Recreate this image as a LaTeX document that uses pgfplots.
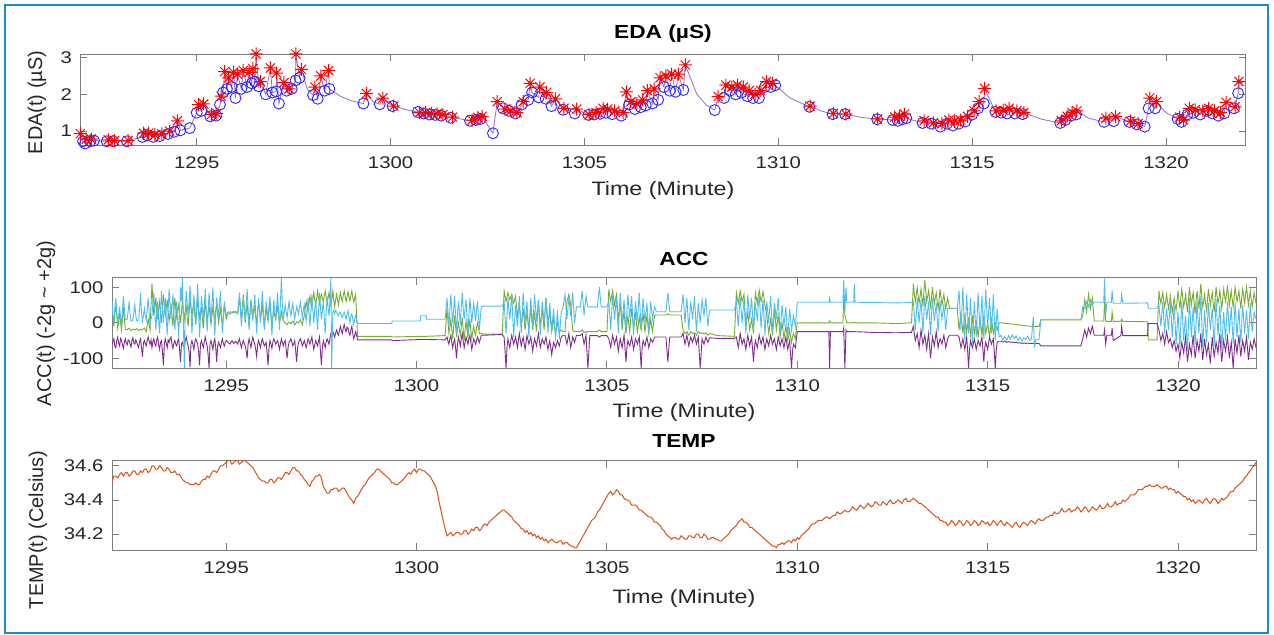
\documentclass[border=0pt]{standalone}
\usepackage{pgfplots}
\pgfplotsset{compat=1.18}
\usepackage{pgfplotstable}
\usepackage{fontspec}
\setmainfont{Liberation Sans}[FakeStretch=1.2]
\newfontfamily\ylabfont{Liberation Sans}
\definecolor{mgreen}{RGB}{119,172,48}
\definecolor{mpurple}{RGB}{126,47,142}
\definecolor{mcyan}{RGB}{77,190,238}
\definecolor{morange}{RGB}{217,83,25}
\definecolor{edaline}{RGB}{150,110,190}
\definecolor{frameblue}{RGB}{30,136,200}
\definecolor{axgray}{RGB}{125,125,125}
\definecolor{txt}{RGB}{38,38,38}
\definecolor{cblue}{RGB}{40,40,255}

\pgfdeclareplotmark{mstar}{%
 \pgfpathmoveto{\pgfqpoint{-\pgfplotmarksize}{0pt}}\pgfpathlineto{\pgfqpoint{\pgfplotmarksize}{0pt}}%
 \pgfpathmoveto{\pgfqpoint{0pt}{-\pgfplotmarksize}}\pgfpathlineto{\pgfqpoint{0pt}{\pgfplotmarksize}}%
 \pgfpathmoveto{\pgfqpoint{-0.7071\pgfplotmarksize}{-0.7071\pgfplotmarksize}}\pgfpathlineto{\pgfqpoint{0.7071\pgfplotmarksize}{0.7071\pgfplotmarksize}}%
 \pgfpathmoveto{\pgfqpoint{-0.7071\pgfplotmarksize}{0.7071\pgfplotmarksize}}\pgfpathlineto{\pgfqpoint{0.7071\pgfplotmarksize}{-0.7071\pgfplotmarksize}}%
 \pgfusepathqstroke}

\pgfplotsset{mstyle/.style={
 scale only axis, anchor=south west,
 xmin=1292, xmax=1322.05,
 axis line style={axgray, line width=0.9bp},
 every tick/.style={axgray, line width=0.9bp},
 tick align=inside, major tick length=7bp,
 xtick={1295,1300,1305,1310,1315,1320},
 /pgf/number format/assume math mode=true,
 /pgf/number format/1000 sep={},
 xticklabel style={font=\fontsize{17}{19}\selectfont, text=txt, yshift=-8bp},
 yticklabel style={font=\fontsize{17}{19}\selectfont, text=txt, xshift=-5bp},
 title style={font=\bfseries\fontsize{19}{21}\selectfont, at={(axis description cs:0.5,1)}, anchor=center},
 xlabel={Time (Minute)},
 xlabel style={font=\fontsize{19.5}{21}\selectfont, text=txt, at={(axis description cs:0.5,0)}, anchor=center},
 ylabel style={font=\ylabfont\fontsize{20}{22}\selectfont, text=txt, anchor=center},
}}

\pgfplotstableread{
t g p c
1292.000 40 -60 60
1292.025 15 -52 25
1292.050 -10 -45 -5
1292.075 25 -66 40
1292.100 55 -70 70
1292.125 20 -50 30
1292.150 -15 -40 5
1292.175 5 -58 20
1292.200 30 -65 45
1292.225 0 -44 15
1292.250 -20 -50 -10
1292.275 10 -62 35
1292.300 45 -72 75
1292.325 10 -55 40
1292.350 -18 -45 8
1292.375 -19 -58 9
1292.400 -20 -62 10
1292.425 -17 -48 35
1292.450 -15 -50 60
1292.475 -19 -60 20
1292.500 -22 -68 5
1292.525 -20 -50 7
1292.550 -18 -42 8
1292.575 -19 -58 30
1292.600 -20 -60 50
1292.625 -18 -48 20
1292.650 -16 -55 6
1292.675 -19 -64 7
1292.700 -22 -70 8
1292.725 -20 -52 40
1292.750 -18 -45 85
1292.775 -19 -70 30
1292.800 -20 -95 5
1292.825 -17 -58 20
1292.850 -15 -50 40
1292.875 -20 -58 20
1292.900 -25 -65 8
1292.925 -5 -50 40
1292.950 10 -40 70
1292.975 -5 -52 30
1293.000 -20 -60 -5
1293.025 50 -48 10
1293.050 110 -70 20
1293.075 60 -52 55
1293.100 20 -45 85
1293.125 45 -60 30
1293.150 70 -65 -20
1293.175 35 -48 25
1293.200 10 -40 60
1293.225 40 -62 10
1293.250 60 -75 -30
1293.275 25 -55 35
1293.300 0 -50 90
1293.325 45 -80 40
1293.350 80 -120 0
1293.375 45 -60 40
1293.400 20 -45 70
1293.425 40 -58 15
1293.450 65 -70 -35
1293.475 30 -48 35
1293.500 5 -55 95
1293.525 30 -45 50
1293.550 55 -40 10
1293.575 20 -60 45
1293.600 -10 -72 80
1293.625 30 -58 30
1293.650 70 -50 -20
1293.675 40 -60 20
1293.700 15 -65 60
1293.725 35 -52 10
1293.750 50 -45 -40
1293.775 25 -75 30
1293.800 0 -110 100
1293.825 30 -60 60
1293.850 60 -55 127
1293.875 35 -65 0
1293.900 10 -70 -128
1293.925 30 -50 40
1293.950 45 -40 90
1293.975 15 -55 50
1294.000 -10 -65 20
1294.025 30 -80 60
1294.050 70 -125 105
1294.075 45 -60 40
1294.100 20 -50 -30
1294.125 40 -62 25
1294.150 55 -75 80
1294.175 25 -55 40
1294.200 -5 -45 0
1294.225 30 -52 55
1294.250 65 -60 110
1294.275 40 -80 30
1294.300 15 -120 -40
1294.325 30 -60 20
1294.350 40 -50 75
1294.375 10 -62 40
1294.400 -15 -70 10
1294.425 25 -52 50
1294.450 60 -40 95
1294.475 30 -55 35
1294.500 5 -65 -25
1294.525 30 -90 30
1294.550 50 -128 85
1294.575 20 -60 45
1294.600 -5 -50 5
1294.625 20 -62 55
1294.650 45 -75 100
1294.675 25 -55 30
1294.700 10 -45 -35
1294.725 35 -70 20
1294.750 55 -110 70
1294.775 25 -65 40
1294.800 0 -55 15
1294.825 20 -62 55
1294.850 40 -70 90
1294.875 15 -55 30
1294.900 -10 -45 -30
1294.925 20 -58 15
1294.950 50 -65 60
1294.975 30 -55 40
1295.000 10 -50 20
1295.050 30 -55 30
1295.100 25 -60 31
1295.150 30 -50 30
1295.200 28 -58 32
1295.250 32 -52 30
1295.300 25 -60 30
1295.325 45 -52 55
1295.350 70 -45 85
1295.375 40 -60 35
1295.400 10 -70 -10
1295.425 45 -58 30
1295.450 80 -50 70
1295.475 40 -58 40
1295.500 0 -65 10
1295.525 30 -80 50
1295.550 55 -100 95
1295.575 20 -60 40
1295.600 -10 -45 -20
1295.625 30 -58 20
1295.650 65 -70 60
1295.675 40 -52 30
1295.700 20 -40 5
1295.725 30 -52 45
1295.750 45 -60 80
1295.775 20 -75 25
1295.800 -5 -95 -30
1295.825 30 -62 20
1295.850 60 -50 70
1295.875 35 -60 35
1295.900 10 -70 0
1295.925 30 -55 45
1295.950 50 -45 90
1295.975 20 -55 35
1296.000 -10 -65 -20
1296.025 15 -60 20
1296.050 40 -55 60
1296.075 20 -85 35
1296.100 5 -120 10
1296.125 30 -70 45
1296.150 55 -50 75
1296.175 25 -60 20
1296.200 -5 -72 -35
1296.225 15 -55 15
1296.250 35 -45 65
1296.275 20 -52 35
1296.300 10 -60 5
1296.325 30 -55 45
1296.350 45 -50 85
1296.375 20 -62 30
1296.400 0 -75 -20
1296.425 15 -58 60
1296.450 30 -45 127
1296.475 15 -55 50
1296.500 5 -65 10
1296.525 2 -55 30
1296.550 0 -50 50
1296.575 -3 -75 30
1296.600 -5 -100 15
1296.625 0 -70 40
1296.650 2 -55 60
1296.675 0 -50 35
1296.700 -3 -45 20
1296.725 2 -55 40
1296.750 5 -65 55
1296.775 0 -58 30
1296.800 -6 -50 10
1296.825 -2 -80 30
1296.850 3 -110 45
1296.875 1 -70 35
1296.900 0 -55 25
1296.925 4 -50 45
1296.950 8 -45 60
1296.975 2 -55 35
1297.000 -5 -65 15
1297.025 8 -58 35
1297.050 20 -50 50
1297.075 40 -60 25
1297.100 60 -70 5
1297.125 45 -58 40
1297.150 30 -45 70
1297.175 55 -52 30
1297.200 75 -60 -10
1297.225 55 -50 35
1297.250 40 -40 80
1297.275 65 -58 40
1297.300 85 -75 0
1297.325 65 -62 35
1297.350 50 -50 65
1297.375 70 -58 20
1297.400 90 -65 -20
1297.425 70 -52 30
1297.450 55 -40 85
1297.475 70 -80 45
1297.500 80 -120 10
1297.525 70 -70 35
1297.550 60 -50 60
1297.575 75 -60 15
1297.600 90 -70 -30
1297.625 70 -55 25
1297.650 55 -45 75
1297.675 70 -52 45
1297.700 85 -60 20
1297.725 65 -45 60
1297.750 50 -30 127
1297.770 60 -35 -128
1297.800 90 -25 30
1297.825 65 -32 35
1297.850 45 -40 25
1297.875 65 -28 35
1297.900 80 -20 30
1297.925 65 -30 25
1297.950 50 -35 20
1297.975 70 -20 30
1298.000 85 -10 28
1298.025 70 -22 20
1298.050 60 -30 15
1298.075 78 -15 25
1298.100 90 -5 30
1298.125 72 -18 20
1298.150 60 -25 10
1298.175 75 -12 25
1298.200 88 -15 35
1298.225 72 -28 15
1298.250 62 -35 0
1298.275 78 -20 20
1298.300 90 -10 25
1298.325 72 -30 10
1298.350 58 -45 -5
1298.375 70 -35 10
1298.400 80 -25 20
1298.450 -38 -48 -2
1299.350 -38 -48 -2
1299.360 -40 -50 5
1300.100 -38 -47 5
1300.110 -38 -47 20
1300.250 -38 -47 20
1300.260 -38 -47 10
1300.750 -36 -48 10
1300.800 40 -40 70
1300.825 5 -52 30
1300.850 -30 -60 -10
1300.875 -10 -45 40
1300.900 10 -35 80
1300.925 -20 -55 35
1300.950 -45 -70 0
1300.975 -10 -55 40
1301.000 20 -45 75
1301.025 -10 -70 20
1301.050 -40 -100 -30
1301.075 -15 -60 20
1301.100 0 -40 60
1301.125 -20 -52 25
1301.150 -35 -65 -5
1301.175 -10 -45 45
1301.200 15 -30 85
1301.225 -20 -52 40
1301.250 -50 -70 10
1301.275 -20 -55 40
1301.300 5 -40 65
1301.325 -20 -50 15
1301.350 -40 -60 -35
1301.375 -15 -45 20
1301.400 10 -35 70
1301.425 -20 -55 35
1301.450 -45 -75 0
1301.475 -25 -60 30
1301.500 -10 -45 55
1301.525 -25 -52 30
1301.550 -35 -60 5
1301.575 -15 -50 35
1301.600 0 -40 60
1301.625 -15 -48 20
1301.650 -30 -55 -20
1301.675 -30 -45 15
1301.700 -30 -35 45
1301.750 -32 -35 47
1302.250 -32 -33 47
1302.300 90 -40 60
1302.325 75 -80 15
1302.350 60 -128 -30
1302.375 72 -70 20
1302.400 85 -45 70
1302.425 75 -58 35
1302.450 65 -70 10
1302.475 72 -50 45
1302.500 80 -35 80
1302.525 68 -48 20
1302.550 55 -60 -40
1302.575 65 -50 5
1302.600 75 -40 50
1302.625 45 -55 20
1302.650 20 -70 -10
1302.675 35 -50 30
1302.700 50 -30 75
1302.725 20 -48 20
1302.750 -10 -65 -30
1302.775 15 -52 30
1302.800 40 -40 85
1302.825 10 -58 40
1302.850 -20 -75 0
1302.875 5 -55 30
1302.900 30 -35 60
1302.925 5 -48 10
1302.950 -15 -60 -40
1302.975 15 -50 15
1303.000 45 -40 70
1303.025 10 -60 30
1303.050 -20 -80 -10
1303.075 5 -60 35
1303.100 25 -45 80
1303.125 0 -55 40
1303.150 -25 -65 5
1303.175 20 -48 35
1303.200 60 -30 65
1303.225 25 -50 15
1303.250 -10 -70 -35
1303.275 15 -58 15
1303.300 40 -45 60
1303.325 10 -52 30
1303.350 -20 -60 0
1303.375 25 -50 35
1303.400 70 -40 70
1303.425 35 -58 20
1303.450 0 -75 -30
1303.475 15 -62 15
1303.500 30 -50 55
1303.525 0 -70 15
1303.550 -25 -90 -20
1303.575 -5 -70 10
1303.600 10 -55 40
1303.625 -10 -62 -5
1303.650 -30 -70 -50
1303.675 -15 -60 -5
1303.700 0 -50 35
1303.725 -12 -58 -5
1303.750 -25 -65 -45
1303.775 -22 -52 -5
1303.800 -20 -40 30
1303.850 -25 -35 45
1303.900 -25 -35 80
1303.950 60 -60 10
1304.000 80 -30 70
1304.050 50 -70 20
1304.100 -20 -40 85
1304.150 -25 -55 0
1304.200 -25 -35 45
1304.300 -25 -36 45
1304.350 -20 -30 90
1304.400 -28 -60 20
1304.450 -25 -35 75
1304.500 -25 -128 45
1304.550 -25 -36 45
1304.750 -25 -36 45
1304.800 -20 -40 100
1304.850 -25 -36 45
1305.000 -25 -36 45
1305.050 95 -45 60
1305.075 75 -58 20
1305.100 60 -70 -20
1305.125 75 -52 30
1305.150 90 -35 80
1305.175 70 -48 45
1305.200 50 -60 10
1305.225 65 -50 40
1305.250 80 -40 70
1305.275 45 -60 20
1305.300 10 -80 -30
1305.325 30 -60 30
1305.350 55 -45 85
1305.375 20 -58 40
1305.400 -20 -70 0
1305.425 10 -52 30
1305.450 35 -35 65
1305.475 0 -70 20
1305.500 -30 -110 -25
1305.525 -5 -70 30
1305.550 20 -50 80
1305.575 -5 -58 45
1305.600 -25 -65 15
1305.625 10 -52 45
1305.650 40 -40 75
1305.675 10 -58 20
1305.700 -15 -75 -35
1305.725 5 -60 15
1305.750 30 -45 60
1305.775 0 -52 30
1305.800 -30 -60 5
1305.825 -5 -50 45
1305.850 15 -40 85
1305.875 -5 -80 30
1305.900 -20 -128 -20
1305.925 5 -70 25
1305.950 25 -50 70
1305.975 0 -58 35
1306.000 -25 -65 0
1306.025 0 -52 30
1306.050 20 -40 55
1306.075 -5 -55 15
1306.100 -30 -70 -30
1306.125 -10 -58 15
1306.150 10 -45 60
1306.175 -10 -50 35
1306.200 -25 -55 10
1306.225 0 -48 30
1306.250 20 -40 45
1306.300 22 -40 31
1306.550 22 -40 31
1306.600 25 -110 85
1306.650 22 -40 31
1306.950 22 -40 31
1307.000 -20 -30 80
1307.050 -30 -60 0
1307.100 -25 -35 70
1307.150 -35 -65 -20
1307.200 -25 -40 60
1307.250 -30 -55 10
1307.300 -28 -35 75
1307.350 -35 -60 -25
1307.400 -25 -40 55
1307.450 -30 -128 0
1307.500 -28 -45 65
1307.550 -32 -60 20
1307.600 -28 -40 70
1307.650 -35 -55 -10
1307.700 -30 -42 36
1307.900 -36 -44 36
1308.350 -38 -44 36
1308.400 85 -40 60
1308.425 70 -55 25
1308.450 55 -70 -10
1308.475 72 -50 35
1308.500 90 -30 75
1308.525 75 -45 35
1308.550 60 -60 0
1308.575 70 -52 35
1308.600 80 -45 65
1308.625 35 -60 20
1308.650 -10 -75 -30
1308.675 10 -55 25
1308.700 30 -35 80
1308.725 5 -50 45
1308.750 -20 -65 10
1308.775 -5 -52 40
1308.800 10 -40 70
1308.825 -10 -75 25
1308.850 -30 -110 -20
1308.875 30 -70 20
1308.900 85 -50 55
1308.925 70 -60 30
1308.950 55 -70 5
1308.975 75 -52 45
1309.000 92 -35 80
1309.025 75 -48 35
1309.050 60 -60 -15
1309.075 72 -50 25
1309.100 88 -40 65
1309.125 70 -58 15
1309.150 50 -75 -35
1309.175 35 -60 15
1309.200 20 -45 60
1309.225 -5 -55 30
1309.250 -30 -65 0
1309.275 -10 -50 40
1309.300 10 -35 75
1309.325 -10 -48 25
1309.350 -35 -60 -25
1309.375 0 -52 15
1309.400 40 -45 55
1309.425 10 -60 35
1309.450 -20 -75 10
1309.475 0 -58 40
1309.500 20 -40 70
1309.525 -10 -52 20
1309.550 -40 -65 -30
1309.575 -20 -55 10
1309.600 0 -45 50
1309.625 -20 -58 20
1309.650 -45 -70 -10
1309.675 -25 -55 20
1309.700 -10 -40 45
1309.725 -30 -58 0
1309.750 -50 -75 -40
1309.775 -35 -62 0
1309.800 -20 -50 40
1309.825 -40 -90 10
1309.850 -55 -128 -20
1309.875 -40 -80 0
1309.900 -30 -60 20
1309.925 -38 -65 5
1309.950 -45 -70 -10
1310.000 0 -25 58
1310.830 0 -25 58
1310.850 5 -128 70
1310.870 0 -25 58
1311.200 0 -25 58
1311.220 80 -15 120
1311.250 20 -128 30
1311.280 10 -20 100
1311.300 0 -25 58
1311.480 0 -25 58
1311.500 2 -25 110
1311.520 0 -25 58
1312.000 0 -27 57
1312.600 -2 -28 56
1313.000 0 -27 57
1313.050 110 -10 60
1313.075 80 -30 20
1313.100 60 -50 -20
1313.125 80 -40 25
1313.150 100 -30 70
1313.175 75 -50 35
1313.200 55 -70 0
1313.225 75 -45 35
1313.250 95 -20 65
1313.275 70 -40 20
1313.300 50 -60 -30
1313.325 85 -48 25
1313.350 120 -35 75
1313.375 90 -55 40
1313.400 60 -75 10
1313.425 75 -50 35
1313.450 90 -30 60
1313.475 65 -65 15
1313.500 45 -100 -35
1313.525 70 -70 20
1313.550 100 -40 70
1313.575 75 -52 35
1313.600 55 -65 5
1313.625 70 -45 30
1313.650 85 -25 55
1313.675 60 -48 15
1313.700 40 -70 -25
1313.725 65 -55 20
1313.750 95 -45 60
1313.775 70 -52 35
1313.800 50 -60 10
1313.825 65 -48 30
1313.850 80 -35 50
1313.875 60 -52 15
1313.900 40 -70 -20
1313.925 55 -58 10
1313.950 70 -45 40
1314.000 41 -35 41
1314.200 41 -35 41
1314.250 -20 -40 90
1314.275 5 -55 35
1314.300 30 -70 -20
1314.325 0 -58 40
1314.350 -30 -45 100
1314.375 -5 -60 25
1314.400 20 -75 -50
1314.425 0 -58 15
1314.450 -25 -40 80
1314.475 -5 -80 25
1314.500 10 -128 -30
1314.525 -10 -75 20
1314.550 -35 -50 70
1314.575 -10 -60 5
1314.600 15 -70 -60
1314.625 -5 -58 0
1314.650 -30 -45 60
1314.675 -10 -60 10
1314.700 5 -75 -40
1314.725 -15 -62 20
1314.750 -40 -50 85
1314.775 -15 -58 30
1314.800 10 -65 -20
1314.825 -10 -52 25
1314.850 -35 -40 75
1314.875 -5 -75 15
1314.900 20 -110 -45
1314.925 -5 -70 25
1314.950 -30 -55 95
1314.975 -15 -65 40
1315.000 0 -75 -10
1315.025 -20 -58 30
1315.050 -40 -40 70
1315.075 -15 -50 20
1315.100 10 -60 -30
1315.125 -10 -52 25
1315.150 -30 -45 80
1315.175 -15 -80 15
1315.200 0 -128 -50
1315.225 -10 -80 -5
1315.250 -20 -55 40
1315.275 -10 -52 0
1315.300 0 -52 -40
1315.350 0 -52 -35
1315.400 0 -54 -48
1315.450 -1 -52 -38
1315.500 -2 -55 -50
1315.550 -2 -53 -36
1315.600 -3 -55 -46
1315.650 -4 -54 -34
1315.700 -4 -56 -44
1315.750 -5 -55 -37
1315.800 -6 -57 -50
1315.850 -6 -56 -40
1315.900 -7 -58 -52
1315.950 -8 -57 -42
1316.000 -8 -58 -47
1316.050 -9 -57 -38
1316.100 -9 -58 -50
1316.150 -10 -58 -45
1316.200 -10 -58 17
1316.230 -10 -58 -70
1316.260 -10 -58 -48
1316.350 -10 -58 -46
1316.400 8 -65 10
1317.450 8 -65 10
1317.500 20 -44 45
1317.550 65 -20 40
1317.600 30 -40 60
1317.650 80 -15 45
1317.700 40 -30 65
1317.750 70 -10 50
1317.800 5 -35 58
1318.050 5 -35 58
1318.070 60 -20 125
1318.100 5 -60 20
1318.130 4 -35 58
1318.250 4 -35 58
1318.270 30 -15 90
1318.300 4 -50 55
1318.500 4 -36 55
1318.520 10 -10 80
1318.550 4 -36 55
1319.200 3 -36 56
1319.220 -48 -2 41
1319.450 -48 -2 41
1319.500 90 -20 50
1319.525 70 -35 20
1319.550 55 -50 -10
1319.575 70 -40 25
1319.600 85 -30 60
1319.625 65 -45 15
1319.650 45 -60 -30
1319.675 60 -42 10
1319.700 80 -25 40
1319.725 60 -40 10
1319.750 40 -55 -20
1319.775 55 -50 20
1319.800 75 -45 55
1319.825 50 -58 10
1319.850 30 -70 -40
1319.875 50 -60 5
1319.900 70 -50 50
1319.925 50 -65 0
1319.950 35 -80 -60
1319.975 60 -70 -15
1320.000 90 -60 30
1320.025 65 -80 -20
1320.050 40 -100 -70
1320.075 70 -75 -5
1320.100 95 -55 60
1320.125 70 -70 5
1320.150 45 -85 -50
1320.175 60 -60 -10
1320.200 80 -40 20
1320.225 55 -75 -30
1320.250 30 -110 -80
1320.275 65 -85 -5
1320.300 100 -60 70
1320.325 75 -75 15
1320.350 50 -90 -40
1320.375 70 -60 5
1320.400 85 -35 45
1320.425 55 -70 -10
1320.450 25 -100 -60
1320.475 60 -75 0
1320.500 90 -50 60
1320.525 65 -65 10
1320.550 40 -80 -30
1320.575 75 -55 25
1320.600 110 -30 75
1320.625 75 -70 0
1320.650 45 -105 -70
1320.675 60 -75 -15
1320.700 80 -45 35
1320.725 55 -70 -10
1320.750 35 -90 -55
1320.775 65 -75 0
1320.800 95 -60 55
1320.825 70 -90 15
1320.850 50 -115 -20
1320.875 70 -75 10
1320.900 85 -40 40
1320.925 55 -70 -15
1320.950 30 -95 -65
1320.975 65 -75 0
1321.000 100 -55 65
1321.025 75 -70 15
1321.050 55 -85 -35
1321.075 70 -55 10
1321.100 90 -30 50
1321.125 65 -75 -15
1321.150 40 -110 -75
1321.175 65 -80 -20
1321.200 95 -50 30
1321.225 75 -65 -10
1321.250 60 -80 -50
1321.275 80 -60 5
1321.300 105 -40 60
1321.325 75 -70 15
1321.350 50 -100 -30
1321.375 70 -75 10
1321.400 90 -55 45
1321.425 65 -90 -10
1321.450 45 -128 -60
1321.475 70 -85 0
1321.500 100 -45 55
1321.525 80 -65 10
1321.550 60 -85 -40
1321.575 75 -60 0
1321.600 90 -35 40
1321.625 65 -65 -10
1321.650 40 -95 -55
1321.675 70 -70 0
1321.700 95 -50 50
1321.725 75 -65 10
1321.750 55 -80 -30
1321.775 80 -60 5
1321.800 100 -40 35
1321.825 75 -70 -5
1321.850 50 -105 -45
1321.875 70 -80 5
1321.900 90 -55 55
1321.925 65 -65 15
1321.950 45 -75 -25
1321.975 65 -60 5
1322.000 85 -45 30
1322.025 70 -58 20
1322.050 55 -70 10
}\acc

\pgfplotstableread{
t v
1292.0 34.51
1292.05 34.54
1292.1 34.54
1292.15 34.53
1292.2 34.55
1292.25 34.56
1292.3 34.54
1292.35 34.56
1292.4 34.56
1292.45 34.54
1292.5 34.55
1292.55 34.57
1292.6 34.57
1292.65 34.55
1292.7 34.55
1292.75 34.57
1292.8 34.56
1292.85 34.58
1292.9 34.58
1292.95 34.56
1293.0 34.57
1293.05 34.60
1293.1 34.60
1293.15 34.58
1293.2 34.58
1293.25 34.60
1293.3 34.59
1293.35 34.57
1293.4 34.57
1293.45 34.59
1293.5 34.58
1293.55 34.56
1293.6 34.56
1293.65 34.57
1293.7 34.55
1293.75 34.55
1293.8 34.54
1293.85 34.52
1293.9 34.51
1293.95 34.50
1294.0 34.50
1294.05 34.49
1294.1 34.49
1294.15 34.49
1294.2 34.50
1294.25 34.49
1294.3 34.49
1294.35 34.51
1294.4 34.52
1294.45 34.52
1294.5 34.54
1294.55 34.53
1294.6 34.55
1294.65 34.57
1294.7 34.57
1294.75 34.56
1294.8 34.58
1294.85 34.60
1294.9 34.60
1294.95 34.61
1295.0 34.62
1295.05 34.63
1295.1 34.63
1295.15 34.61
1295.2 34.62
1295.25 34.63
1295.3 34.63
1295.35 34.61
1295.4 34.62
1295.45 34.63
1295.5 34.63
1295.55 34.62
1295.6 34.61
1295.65 34.60
1295.7 34.59
1295.75 34.57
1295.8 34.55
1295.85 34.53
1295.9 34.52
1295.95 34.51
1296.0 34.51
1296.05 34.50
1296.1 34.50
1296.15 34.52
1296.2 34.52
1296.25 34.50
1296.3 34.51
1296.35 34.53
1296.4 34.53
1296.45 34.52
1296.5 34.54
1296.55 34.56
1296.6 34.56
1296.65 34.55
1296.7 34.57
1296.75 34.59
1296.8 34.59
1296.85 34.57
1296.9 34.57
1296.95 34.55
1297.0 34.54
1297.05 34.52
1297.1 34.51
1297.15 34.49
1297.2 34.48
1297.25 34.51
1297.3 34.52
1297.35 34.54
1297.4 34.54
1297.45 34.55
1297.5 34.53
1297.55 34.48
1297.6 34.46
1297.65 34.44
1297.7 34.44
1297.75 34.46
1297.8 34.46
1297.85 34.47
1297.9 34.47
1297.95 34.45
1298.0 34.46
1298.05 34.47
1298.1 34.47
1298.15 34.45
1298.2 34.43
1298.25 34.41
1298.3 34.40
1298.35 34.38
1298.4 34.41
1298.45 34.42
1298.5 34.44
1298.55 34.46
1298.6 34.48
1298.65 34.49
1298.7 34.51
1298.75 34.53
1298.8 34.54
1298.85 34.55
1298.9 34.56
1298.95 34.58
1299.0 34.58
1299.05 34.57
1299.1 34.56
1299.15 34.55
1299.2 34.54
1299.25 34.53
1299.3 34.52
1299.35 34.50
1299.4 34.50
1299.45 34.49
1299.5 34.49
1299.55 34.50
1299.6 34.51
1299.65 34.52
1299.7 34.53
1299.75 34.55
1299.8 34.56
1299.85 34.55
1299.9 34.57
1299.95 34.58
1300.0 34.56
1300.05 34.58
1300.1 34.58
1300.15 34.57
1300.2 34.57
1300.25 34.56
1300.3 34.55
1300.35 34.54
1300.4 34.52
1300.45 34.50
1300.5 34.48
1300.55 34.44
1300.6 34.38
1300.65 34.33
1300.7 34.28
1300.75 34.23
1300.8 34.19
1300.85 34.20
1300.9 34.21
1300.95 34.19
1301.0 34.20
1301.05 34.21
1301.1 34.21
1301.15 34.20
1301.2 34.20
1301.25 34.22
1301.3 34.22
1301.35 34.20
1301.4 34.21
1301.45 34.23
1301.5 34.22
1301.55 34.24
1301.6 34.24
1301.65 34.22
1301.7 34.23
1301.75 34.25
1301.8 34.26
1301.85 34.25
1301.9 34.27
1301.95 34.28
1302.0 34.29
1302.05 34.30
1302.1 34.31
1302.15 34.32
1302.2 34.33
1302.25 34.34
1302.3 34.34
1302.35 34.33
1302.4 34.32
1302.45 34.31
1302.5 34.30
1302.55 34.28
1302.6 34.27
1302.65 34.26
1302.7 34.25
1302.75 34.23
1302.8 34.23
1302.85 34.21
1302.9 34.22
1302.95 34.20
1303.0 34.21
1303.05 34.19
1303.1 34.20
1303.15 34.18
1303.2 34.19
1303.25 34.17
1303.3 34.18
1303.35 34.16
1303.4 34.17
1303.45 34.15
1303.5 34.16
1303.55 34.17
1303.6 34.16
1303.65 34.15
1303.7 34.15
1303.75 34.16
1303.8 34.16
1303.85 34.14
1303.9 34.15
1303.95 34.15
1304.0 34.14
1304.05 34.13
1304.1 34.13
1304.15 34.12
1304.2 34.12
1304.25 34.14
1304.3 34.16
1304.35 34.18
1304.4 34.20
1304.45 34.22
1304.5 34.24
1304.55 34.26
1304.6 34.28
1304.65 34.29
1304.7 34.30
1304.75 34.33
1304.8 34.34
1304.85 34.36
1304.9 34.38
1304.95 34.40
1305.0 34.42
1305.05 34.44
1305.1 34.45
1305.15 34.43
1305.2 34.44
1305.25 34.46
1305.3 34.45
1305.35 34.43
1305.4 34.43
1305.45 34.41
1305.5 34.40
1305.55 34.40
1305.6 34.39
1305.65 34.37
1305.7 34.37
1305.75 34.37
1305.8 34.36
1305.85 34.34
1305.9 34.34
1305.95 34.33
1306.0 34.32
1306.05 34.31
1306.1 34.30
1306.15 34.30
1306.2 34.29
1306.25 34.27
1306.3 34.27
1306.35 34.26
1306.4 34.25
1306.45 34.23
1306.5 34.22
1306.55 34.20
1306.6 34.19
1306.65 34.18
1306.7 34.17
1306.75 34.18
1306.8 34.18
1306.85 34.17
1306.9 34.17
1306.95 34.19
1307.0 34.18
1307.05 34.17
1307.1 34.17
1307.15 34.19
1307.2 34.19
1307.25 34.18
1307.3 34.18
1307.35 34.20
1307.4 34.20
1307.45 34.18
1307.5 34.18
1307.55 34.20
1307.6 34.19
1307.65 34.17
1307.7 34.17
1307.75 34.18
1307.8 34.18
1307.85 34.17
1307.9 34.17
1307.95 34.16
1308.0 34.16
1308.05 34.17
1308.1 34.18
1308.15 34.19
1308.2 34.20
1308.25 34.22
1308.3 34.23
1308.35 34.24
1308.4 34.25
1308.45 34.27
1308.5 34.28
1308.55 34.29
1308.6 34.27
1308.65 34.27
1308.7 34.26
1308.75 34.24
1308.8 34.24
1308.85 34.23
1308.9 34.22
1308.95 34.21
1309.0 34.20
1309.05 34.19
1309.1 34.18
1309.15 34.17
1309.2 34.16
1309.25 34.15
1309.3 34.14
1309.35 34.13
1309.4 34.13
1309.45 34.12
1309.5 34.14
1309.55 34.14
1309.6 34.15
1309.65 34.14
1309.7 34.15
1309.75 34.16
1309.8 34.16
1309.85 34.15
1309.9 34.17
1309.95 34.16
1310.0 34.18
1310.05 34.17
1310.1 34.19
1310.15 34.20
1310.2 34.21
1310.25 34.22
1310.3 34.23
1310.35 34.25
1310.4 34.26
1310.45 34.26
1310.5 34.27
1310.55 34.28
1310.6 34.28
1310.65 34.28
1310.7 34.29
1310.75 34.30
1310.8 34.30
1310.85 34.29
1310.9 34.30
1310.95 34.31
1311.0 34.31
1311.05 34.33
1311.1 34.32
1311.15 34.32
1311.2 34.33
1311.25 34.34
1311.3 34.33
1311.35 34.33
1311.4 34.34
1311.45 34.36
1311.5 34.35
1311.55 34.34
1311.6 34.35
1311.65 34.37
1311.7 34.36
1311.75 34.35
1311.8 34.36
1311.85 34.38
1311.9 34.37
1311.95 34.36
1312.0 34.37
1312.05 34.39
1312.1 34.38
1312.15 34.37
1312.2 34.37
1312.25 34.39
1312.3 34.38
1312.35 34.37
1312.4 34.39
1312.45 34.40
1312.5 34.38
1312.55 34.38
1312.6 34.39
1312.65 34.40
1312.7 34.39
1312.75 34.38
1312.8 34.40
1312.85 34.41
1312.9 34.39
1312.95 34.39
1313.0 34.40
1313.05 34.41
1313.1 34.40
1313.15 34.39
1313.2 34.38
1313.25 34.38
1313.3 34.37
1313.35 34.36
1313.4 34.35
1313.45 34.34
1313.5 34.33
1313.55 34.32
1313.6 34.31
1313.65 34.30
1313.7 34.30
1313.75 34.28
1313.8 34.28
1313.85 34.27
1313.9 34.27
1313.95 34.25
1314.0 34.26
1314.05 34.28
1314.1 34.27
1314.15 34.25
1314.2 34.26
1314.25 34.28
1314.3 34.27
1314.35 34.25
1314.4 34.26
1314.45 34.28
1314.5 34.27
1314.55 34.25
1314.6 34.26
1314.65 34.28
1314.7 34.27
1314.75 34.25
1314.8 34.26
1314.85 34.28
1314.9 34.27
1314.95 34.26
1315.0 34.27
1315.05 34.25
1315.1 34.26
1315.15 34.28
1315.2 34.27
1315.25 34.25
1315.3 34.27
1315.35 34.28
1315.4 34.26
1315.45 34.25
1315.5 34.27
1315.55 34.26
1315.6 34.25
1315.65 34.24
1315.7 34.26
1315.75 34.27
1315.8 34.25
1315.85 34.24
1315.9 34.26
1315.95 34.27
1316.0 34.26
1316.05 34.25
1316.1 34.27
1316.15 34.28
1316.2 34.27
1316.25 34.26
1316.3 34.28
1316.35 34.29
1316.4 34.28
1316.45 34.28
1316.5 34.29
1316.55 34.30
1316.6 34.30
1316.65 34.31
1316.7 34.31
1316.75 34.33
1316.8 34.32
1316.85 34.32
1316.9 34.33
1316.95 34.35
1317.0 34.33
1317.05 34.33
1317.1 34.34
1317.15 34.35
1317.2 34.33
1317.25 34.34
1317.3 34.34
1317.35 34.36
1317.4 34.35
1317.45 34.33
1317.5 34.34
1317.55 34.36
1317.6 34.35
1317.65 34.33
1317.7 34.34
1317.75 34.36
1317.8 34.35
1317.85 34.34
1317.9 34.35
1317.95 34.37
1318.0 34.35
1318.05 34.35
1318.1 34.36
1318.15 34.38
1318.2 34.36
1318.25 34.36
1318.3 34.37
1318.35 34.39
1318.4 34.37
1318.45 34.38
1318.5 34.38
1318.55 34.40
1318.6 34.39
1318.65 34.40
1318.7 34.41
1318.75 34.43
1318.8 34.43
1318.85 34.43
1318.9 34.44
1318.95 34.46
1319.0 34.46
1319.05 34.46
1319.1 34.47
1319.15 34.48
1319.2 34.48
1319.25 34.49
1319.3 34.48
1319.35 34.48
1319.4 34.48
1319.45 34.49
1319.5 34.48
1319.55 34.47
1319.6 34.47
1319.65 34.48
1319.7 34.48
1319.75 34.46
1319.8 34.47
1319.85 34.46
1319.9 34.46
1319.95 34.44
1320.0 34.45
1320.05 34.44
1320.1 34.43
1320.15 34.42
1320.2 34.42
1320.25 34.40
1320.3 34.41
1320.35 34.39
1320.4 34.40
1320.45 34.38
1320.5 34.39
1320.55 34.40
1320.6 34.39
1320.65 34.38
1320.7 34.40
1320.75 34.41
1320.8 34.39
1320.85 34.38
1320.9 34.40
1320.95 34.41
1321.0 34.40
1321.05 34.38
1321.1 34.39
1321.15 34.41
1321.2 34.40
1321.25 34.41
1321.3 34.42
1321.35 34.44
1321.4 34.45
1321.45 34.45
1321.5 34.47
1321.55 34.48
1321.6 34.49
1321.65 34.50
1321.7 34.51
1321.75 34.53
1321.8 34.54
1321.85 34.56
1321.9 34.57
1321.95 34.59
1322.0 34.60
1322.05 34.62
}\temp

\begin{document}
\begin{tikzpicture}[x=1bp,y=1bp]
\useasboundingbox (0,0) rectangle (1274,635);
\draw[frameblue, line width=2bp] (5,2) rectangle (1268,629.5);

% ---------------- EDA ----------------
\begin{axis}[mstyle, at={(80.4bp,490bp)}, width=1165.1bp, height=91bp,
  ymin=0.62, ymax=3.1, ytick={1,2,3}, clip=false,
  title={EDA (µS)}, title style={yshift=14bp},
  xlabel style={yshift=-45bp},
  ylabel={EDA(t) (µS)}, ylabel style={at={(axis description cs:-0.0373,0.467)}}]
\addplot[edaline, line width=0.8bp] table {
1292.00 0.93
1292.07 0.72
1292.12 0.66
1292.15 0.78
1292.25 0.72
1292.28 0.78
1292.35 0.74
1292.68 0.72
1292.72 0.76
1292.85 0.72
1292.88 0.74
1293.20 0.72
1293.23 0.74
1293.60 0.84
1293.63 0.94
1293.72 0.88
1293.76 0.94
1293.88 0.84
1293.92 0.90
1294.05 0.86
1294.10 0.92
1294.25 0.92
1294.30 1.00
1294.42 0.98
1294.50 1.28
1294.58 1.02
1294.82 1.08
1295.00 1.50
1295.05 1.72
1295.12 1.55
1295.18 1.74
1295.35 1.40
1295.38 1.45
1295.50 1.42
1295.52 1.48
1295.60 1.72
1295.63 1.95
1295.68 2.05
1295.72 2.62
1295.78 2.15
1295.82 2.45
1295.90 2.20
1295.95 2.60
1296.00 1.90
1296.05 2.55
1296.15 2.15
1296.20 2.65
1296.30 2.20
1296.35 2.60
1296.42 2.30
1296.45 2.70
1296.50 2.35
1296.53 3.10
1296.60 2.22
1296.64 2.35
1296.78 2.00
1296.90 2.72
1296.95 2.05
1297.05 2.08
1297.06 2.58
1297.12 1.75
1297.25 2.32
1297.32 2.10
1297.38 2.15
1297.45 2.15
1297.55 2.38
1297.56 3.10
1297.65 2.45
1297.70 2.68
1297.85 2.15
1298.00 1.98
1298.05 2.20
1298.12 1.88
1298.20 2.50
1298.30 2.10
1298.40 2.65
1298.42 2.15
1298.70 1.95
1299.00 1.82
1299.30 1.75
1299.38 2.02
1299.55 1.80
1299.72 1.73
1299.80 1.90
1300.05 1.68
1300.08 1.68
1300.40 1.58
1300.70 1.52
1300.75 1.50
1300.85 1.48
1300.90 1.50
1301.00 1.45
1301.05 1.48
1301.15 1.44
1301.20 1.47
1301.30 1.42
1301.35 1.45
1301.55 1.36
1301.60 1.38
1301.85 1.32
1302.05 1.28
1302.10 1.30
1302.20 1.30
1302.25 1.37
1302.32 1.33
1302.36 1.40
1302.64 0.94
1302.75 1.80
1302.90 1.62
1302.95 1.60
1303.05 1.55
1303.10 1.55
1303.22 1.48
1303.26 1.50
1303.38 1.72
1303.42 1.80
1303.55 1.85
1303.60 2.30
1303.65 2.05
1303.82 1.92
1303.85 2.20
1304.00 1.88
1304.02 2.05
1304.15 1.68
1304.25 1.88
1304.45 1.58
1304.47 1.62
1304.75 1.48
1304.80 1.60
1305.10 1.44
1305.12 1.45
1305.25 1.45
1305.30 1.50
1305.40 1.47
1305.48 1.62
1305.55 1.50
1305.60 1.60
1305.72 1.46
1305.78 1.55
1305.95 1.42
1306.00 1.50
1306.08 2.07
1306.15 1.72
1306.20 1.80
1306.30 1.60
1306.35 1.75
1306.45 1.65
1306.50 1.85
1306.58 1.70
1306.62 2.10
1306.75 1.75
1306.80 2.15
1306.90 1.85
1306.95 2.45
1307.05 2.20
1307.10 2.50
1307.20 2.10
1307.25 2.55
1307.35 2.07
1307.42 2.55
1307.55 2.12
1307.60 2.80
1307.90 2.00
1308.15 1.70
1308.36 1.57
1308.45 1.94
1308.60 1.90
1308.65 2.25
1308.75 2.10
1308.80 2.20
1308.90 2.00
1308.95 2.25
1309.05 2.05
1309.10 2.20
1309.20 1.95
1309.25 2.10
1309.35 1.90
1309.40 2.00
1309.50 1.90
1309.55 2.10
1309.65 2.20
1309.70 2.35
1309.80 2.20
1309.85 2.30
1309.92 2.25
1310.30 1.90
1310.80 1.66
1310.82 1.68
1311.10 1.55
1311.40 1.46
1311.42 1.48
1311.72 1.46
1311.74 1.46
1312.10 1.38
1312.55 1.32
1312.56 1.33
1312.95 1.30
1313.00 1.38
1313.08 1.28
1313.12 1.40
1313.20 1.32
1313.25 1.46
1313.30 1.35
1313.72 1.22
1313.76 1.28
1313.95 1.20
1314.00 1.22
1314.18 1.12
1314.22 1.20
1314.35 1.20
1314.40 1.30
1314.50 1.15
1314.55 1.28
1314.65 1.20
1314.70 1.30
1314.82 1.26
1314.88 1.40
1315.00 1.45
1315.05 1.55
1315.15 1.62
1315.18 1.80
1315.30 1.75
1315.32 2.16
1315.60 1.52
1315.62 1.55
1315.75 1.50
1315.80 1.56
1315.90 1.48
1315.95 1.62
1316.10 1.48
1316.15 1.55
1316.30 1.46
1316.33 1.50
1316.80 1.32
1317.27 1.22
1317.30 1.28
1317.40 1.30
1317.45 1.40
1317.55 1.42
1317.58 1.50
1317.68 1.45
1317.70 1.55
1318.00 1.35
1318.40 1.25
1318.45 1.35
1318.65 1.27
1318.70 1.39
1319.05 1.25
1319.08 1.27
1319.25 1.18
1319.28 1.20
1319.45 1.12
1319.55 1.62
1319.58 1.90
1319.72 1.62
1319.75 1.80
1320.00 1.50
1320.30 1.33
1320.35 1.38
1320.40 1.25
1320.45 1.30
1320.55 1.45
1320.60 1.62
1320.70 1.50
1320.75 1.58
1320.88 1.45
1320.95 1.55
1321.05 1.55
1321.10 1.62
1321.20 1.48
1321.25 1.55
1321.35 1.42
1321.40 1.50
1321.50 1.48
1321.55 1.78
1321.75 1.62
1321.78 1.66
1321.86 2.03
1321.88 2.35
1322.00 2.30
};
\addplot[only marks, mark=o, mark size=5.5bp, cblue, mark options={line width=0.9bp}] table {
1292.07 0.72
1292.12 0.66
1292.25 0.72
1292.35 0.74
1292.68 0.72
1292.85 0.72
1293.20 0.72
1293.60 0.84
1293.72 0.88
1293.88 0.84
1294.05 0.86
1294.25 0.92
1294.42 0.98
1294.58 1.02
1294.82 1.08
1295.00 1.50
1295.12 1.55
1295.35 1.40
1295.50 1.42
1295.60 1.72
1295.68 2.05
1295.78 2.15
1295.90 2.20
1296.00 1.90
1296.15 2.15
1296.30 2.20
1296.42 2.30
1296.50 2.35
1296.60 2.22
1296.78 2.00
1296.95 2.05
1297.05 2.08
1297.12 1.75
1297.32 2.10
1297.45 2.15
1297.55 2.38
1297.65 2.45
1298.00 1.98
1298.12 1.88
1298.30 2.10
1298.42 2.15
1299.30 1.75
1299.72 1.73
1300.05 1.68
1300.70 1.52
1300.85 1.48
1301.00 1.45
1301.15 1.44
1301.30 1.42
1301.55 1.36
1302.05 1.28
1302.20 1.30
1302.32 1.33
1302.64 0.94
1302.90 1.62
1303.05 1.55
1303.22 1.48
1303.38 1.72
1303.55 1.85
1303.65 2.05
1303.82 1.92
1304.00 1.88
1304.15 1.68
1304.45 1.58
1304.75 1.48
1305.10 1.44
1305.25 1.45
1305.40 1.47
1305.55 1.50
1305.72 1.46
1305.95 1.42
1306.15 1.72
1306.30 1.60
1306.45 1.65
1306.58 1.70
1306.75 1.75
1306.90 1.85
1307.05 2.20
1307.20 2.10
1307.35 2.07
1307.55 2.12
1308.36 1.57
1308.60 1.90
1308.75 2.10
1308.90 2.00
1309.05 2.05
1309.20 1.95
1309.35 1.90
1309.50 1.90
1309.65 2.20
1309.80 2.20
1309.92 2.25
1310.80 1.66
1311.40 1.46
1311.72 1.46
1312.55 1.32
1312.95 1.30
1313.08 1.28
1313.20 1.32
1313.30 1.35
1313.72 1.22
1313.95 1.20
1314.18 1.12
1314.35 1.20
1314.50 1.15
1314.65 1.20
1314.82 1.26
1315.00 1.45
1315.15 1.62
1315.30 1.75
1315.60 1.52
1315.75 1.50
1315.90 1.48
1316.10 1.48
1316.30 1.46
1317.27 1.22
1317.40 1.30
1317.55 1.42
1317.68 1.45
1318.40 1.25
1318.65 1.27
1319.05 1.25
1319.25 1.18
1319.45 1.12
1319.55 1.62
1319.72 1.62
1320.30 1.33
1320.40 1.25
1320.55 1.45
1320.70 1.50
1320.88 1.45
1321.05 1.55
1321.20 1.48
1321.35 1.42
1321.50 1.48
1321.75 1.62
1321.86 2.03
};
\addplot[only marks, mark=mstar, mark size=6.5bp, red, mark options={line width=1bp}] table {
1292.00 0.93
1292.15 0.78
1292.28 0.78
1292.72 0.76
1292.88 0.74
1293.23 0.74
1293.63 0.94
1293.76 0.94
1293.92 0.90
1294.10 0.92
1294.30 1.00
1294.50 1.28
1295.05 1.72
1295.18 1.74
1295.38 1.45
1295.52 1.48
1295.63 1.95
1295.72 2.62
1295.82 2.45
1295.95 2.60
1296.05 2.55
1296.20 2.65
1296.35 2.60
1296.45 2.70
1296.53 3.10
1296.64 2.35
1296.90 2.72
1297.06 2.58
1297.25 2.32
1297.38 2.15
1297.56 3.10
1297.70 2.68
1298.05 2.20
1298.20 2.50
1298.40 2.65
1299.38 2.02
1299.80 1.90
1300.08 1.68
1300.75 1.50
1300.90 1.50
1301.05 1.48
1301.20 1.47
1301.35 1.45
1301.60 1.38
1302.10 1.30
1302.25 1.37
1302.36 1.40
1302.75 1.80
1302.95 1.60
1303.10 1.55
1303.26 1.50
1303.42 1.80
1303.60 2.30
1303.85 2.20
1304.02 2.05
1304.25 1.88
1304.47 1.62
1304.80 1.60
1305.12 1.45
1305.30 1.50
1305.48 1.62
1305.60 1.60
1305.78 1.55
1306.00 1.50
1306.08 2.07
1306.20 1.80
1306.35 1.75
1306.50 1.85
1306.62 2.10
1306.80 2.15
1306.95 2.45
1307.10 2.50
1307.25 2.55
1307.42 2.55
1307.60 2.80
1308.45 1.94
1308.65 2.25
1308.80 2.20
1308.95 2.25
1309.10 2.20
1309.25 2.10
1309.40 2.00
1309.55 2.10
1309.70 2.35
1309.85 2.30
1310.82 1.68
1311.42 1.48
1311.74 1.46
1312.56 1.33
1313.00 1.38
1313.12 1.40
1313.25 1.46
1313.76 1.28
1314.00 1.22
1314.22 1.20
1314.40 1.30
1314.55 1.28
1314.70 1.30
1314.88 1.40
1315.05 1.55
1315.18 1.80
1315.32 2.16
1315.62 1.55
1315.80 1.56
1315.95 1.62
1316.15 1.55
1316.33 1.50
1317.30 1.28
1317.45 1.40
1317.58 1.50
1317.70 1.55
1318.45 1.35
1318.70 1.39
1319.08 1.27
1319.28 1.20
1319.58 1.90
1319.75 1.80
1320.35 1.38
1320.45 1.30
1320.60 1.62
1320.75 1.58
1320.95 1.55
1321.10 1.62
1321.25 1.55
1321.40 1.50
1321.55 1.78
1321.78 1.66
1321.88 2.35
};
\end{axis}

% ---------------- ACC ----------------
\begin{axis}[mstyle, at={(112bp,266.7bp)}, width=1144bp, height=90.6bp,
  ymin=-128, ymax=127, ytick={-100,0,100},
  title={ACC}, title style={yshift=12.7bp},
  xlabel style={yshift=-44bp},
  ylabel={ACC(t) (-2g \textasciitilde\ +2g)}, ylabel style={at={(axis description cs:-0.0577,0.494)}}]
\addplot[mgreen, line width=0.9bp] table[x=t, y=g] {\acc};
\addplot[mpurple, line width=0.9bp] table[x=t, y=p] {\acc};
\addplot[mcyan, line width=0.9bp] table[x=t, y=c] {\acc};
\end{axis}

% ---------------- TEMP ----------------
\begin{axis}[mstyle, at={(112bp,85bp)}, width=1144bp, height=89.3bp,
  ymin=34.107, ymax=34.63, ytick={34.2,34.4,34.6}, yticklabels={34.2,34.4,34.6},
  title={TEMP}, title style={yshift=13.7bp},
  xlabel style={yshift=-48bp},
  ylabel={TEMP(t) (Celsius)}, ylabel style={at={(axis description cs:-0.0647,0.224)}}]
\addplot[morange, line width=1bp] table[x=t, y=v] {\temp};
\end{axis}
\end{tikzpicture}
\end{document}
